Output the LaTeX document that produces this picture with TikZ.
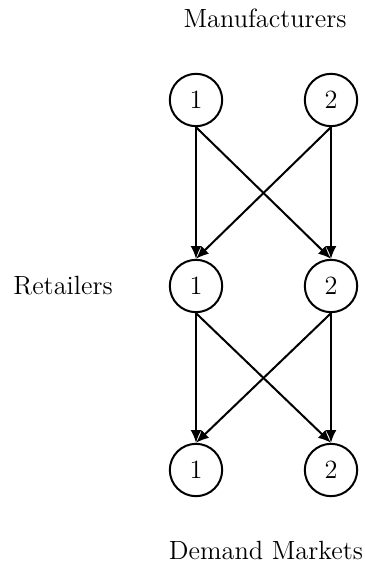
\documentclass[tikz,border=0pt]{standalone}
\usetikzlibrary{arrows.meta}
\begin{document}
\begin{tikzpicture}[x=0.5464pt,y=-0.5464pt,
  tier/.style={circle,draw,line width=1.1pt,minimum size=28.6pt,inner sep=0pt,font=\Large},
  flow/.style={line width=1.1pt,-{Latex[length=7pt,width=6pt]}},
  caption/.style={font=\Large}]
  \useasboundingbox (0,0) rectangle (365,569);
  % tier captions
  \node[caption] (mtitle) at (265,18) {Manufacturers};
  \node[caption] (rtitle) at (63,286) {Retailers};
  \node[caption] (dtitle) at (266,550) {Demand Markets};
  % manufacturers
  \node[tier] (m1) at (196,100) {1};
  \node[tier] (m2) at (331,100) {2};
  % retailers
  \node[tier] (r1) at (196,286) {1};
  \node[tier] (r2) at (331,286) {2};
  % demand markets
  \node[tier] (d1) at (196,470) {1};
  \node[tier] (d2) at (331,470) {2};
  % shipments
  \foreach \a in {m1,m2} \foreach \b in {r1,r2} \draw[flow] (\a.south) -- (\b.north);
  \foreach \a in {r1,r2} \foreach \b in {d1,d2} \draw[flow] (\a.south) -- (\b.north);
\end{tikzpicture}
\end{document}
